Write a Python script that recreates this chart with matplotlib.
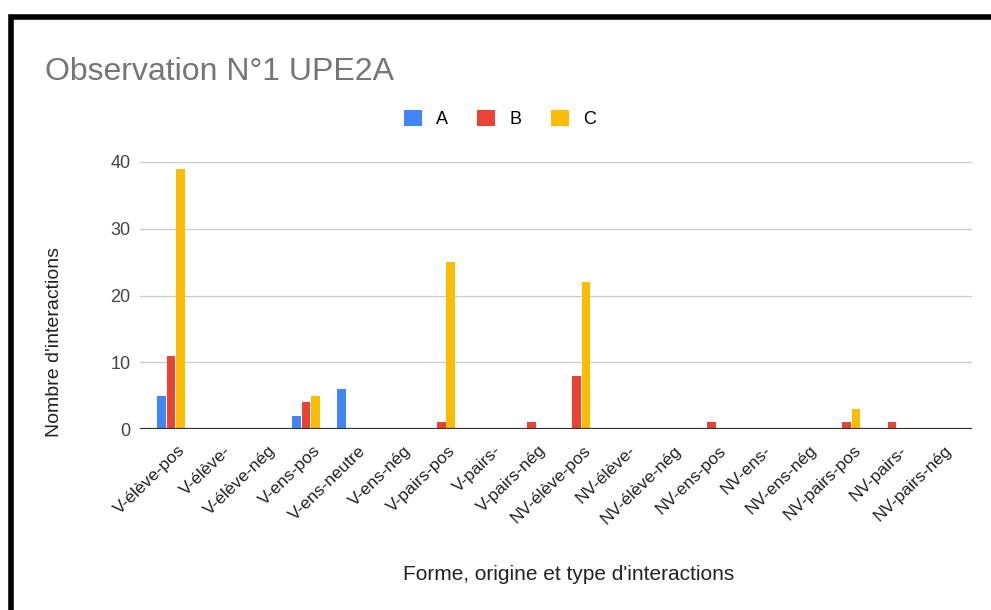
import matplotlib
matplotlib.use("Agg")
import matplotlib.pyplot as plt
import matplotlib.transforms as mtransforms
from matplotlib.patches import Rectangle
import numpy as np

plt.rcParams['font.family'] = ['Liberation Sans', 'DejaVu Sans']

categories = ["V-élève-pos", "V-élève-", "V-élève-nég", "V-ens-pos", "V-ens-neutre",
              "V-ens-nég", "V-pairs-pos", "V-pairs-", "V-pairs-nég", "NV-élève-pos",
              "NV-élève-", "NV-élève-nég", "NV-ens-pos", "NV-ens-", "NV-ens-nég",
              "NV-pairs-pos", "NV-pairs-", "NV-pairs-nég"]
serie_a = [5, 0, 0, 2, 6, 0, 0, 0, 0, 0, 0, 0, 0, 0, 0, 0, 0, 0]
serie_b = [11, 0, 0, 4, 0, 0, 1, 0, 1, 8, 0, 0, 1, 0, 0, 1, 1, 0]
serie_c = [39, 0, 0, 5, 0, 0, 25, 0, 0, 22, 0, 0, 0, 0, 0, 3, 0, 0]
noms = ["A", "B", "C"]
couleurs = ["#4285F4", "#EA4335", "#FBBC04"]
yticks = [0, 10, 20, 30, 40]

W, H = 991, 610
fig = plt.figure(figsize=(W / 100, H / 100), dpi=100)
ax = fig.add_axes([140 / W, 1 - 429 / H, (972 - 140) / W, (429 - 162) / H])

x = np.arange(len(categories))
larg = 0.19
ecart = 0.21
for k, (vals, nom, coul) in enumerate(zip([serie_a, serie_b, serie_c], noms, couleurs)):
    ax.bar(x + (k - 1) * ecart, vals, width=larg, color=coul, label=nom, zorder=3)

ax.set_xlim(-0.688, 17.78)
ax.set_ylim(0, 40)
ax.set_yticks(yticks)
ax.grid(axis='y', color='#cccccc', linewidth=1, zorder=0)
ax.axhline(0, color='#333333', linewidth=1.6, zorder=4)
for s in ax.spines.values():
    s.set_visible(False)
ax.tick_params(axis='y', length=0, pad=7, labelsize=13, labelcolor='#444444')
ax.tick_params(axis='x', length=0, pad=10, labelsize=12.5, labelcolor='#222222')
ax.set_xticks(x)
ax.set_xticklabels(categories, rotation=44, ha='right', rotation_mode='anchor')
decal = mtransforms.ScaledTranslation(7 / 100, 0, fig.dpi_scale_trans)
for lab in ax.get_xticklabels():
    lab.set_transform(lab.get_transform() + decal)

fig.text(45 / W, 1 - 80 / H, "Observation N°1 UPE2A", fontsize=23, color='#757575', va='baseline')
fig.text(569 / W, 1 - 575 / H, "Forme, origine et type d'interactions", fontsize=15,
         color='#222222', ha='center', va='center')
fig.text(55 / W, 1 - 342 / H, "Nombre d'interactions", fontsize=14, color='#222222',
         ha='center', va='center', rotation=90)

fig.legend(loc='center', bbox_to_anchor=(500 / W, 1 - 119 / H), ncol=3, frameon=False,
           fontsize=13, handlelength=1.0, handleheight=1.0, handletextpad=0.8,
           columnspacing=1.6)

# cadre noir (haut et gauche)
fig.add_artist(Rectangle((11 / W, -0.1), 1.2, 1.1 - 17 / H, transform=fig.transFigure,
                         fill=False, edgecolor='black', linewidth=4))

fig.savefig("out.png", dpi=100, facecolor='white')
